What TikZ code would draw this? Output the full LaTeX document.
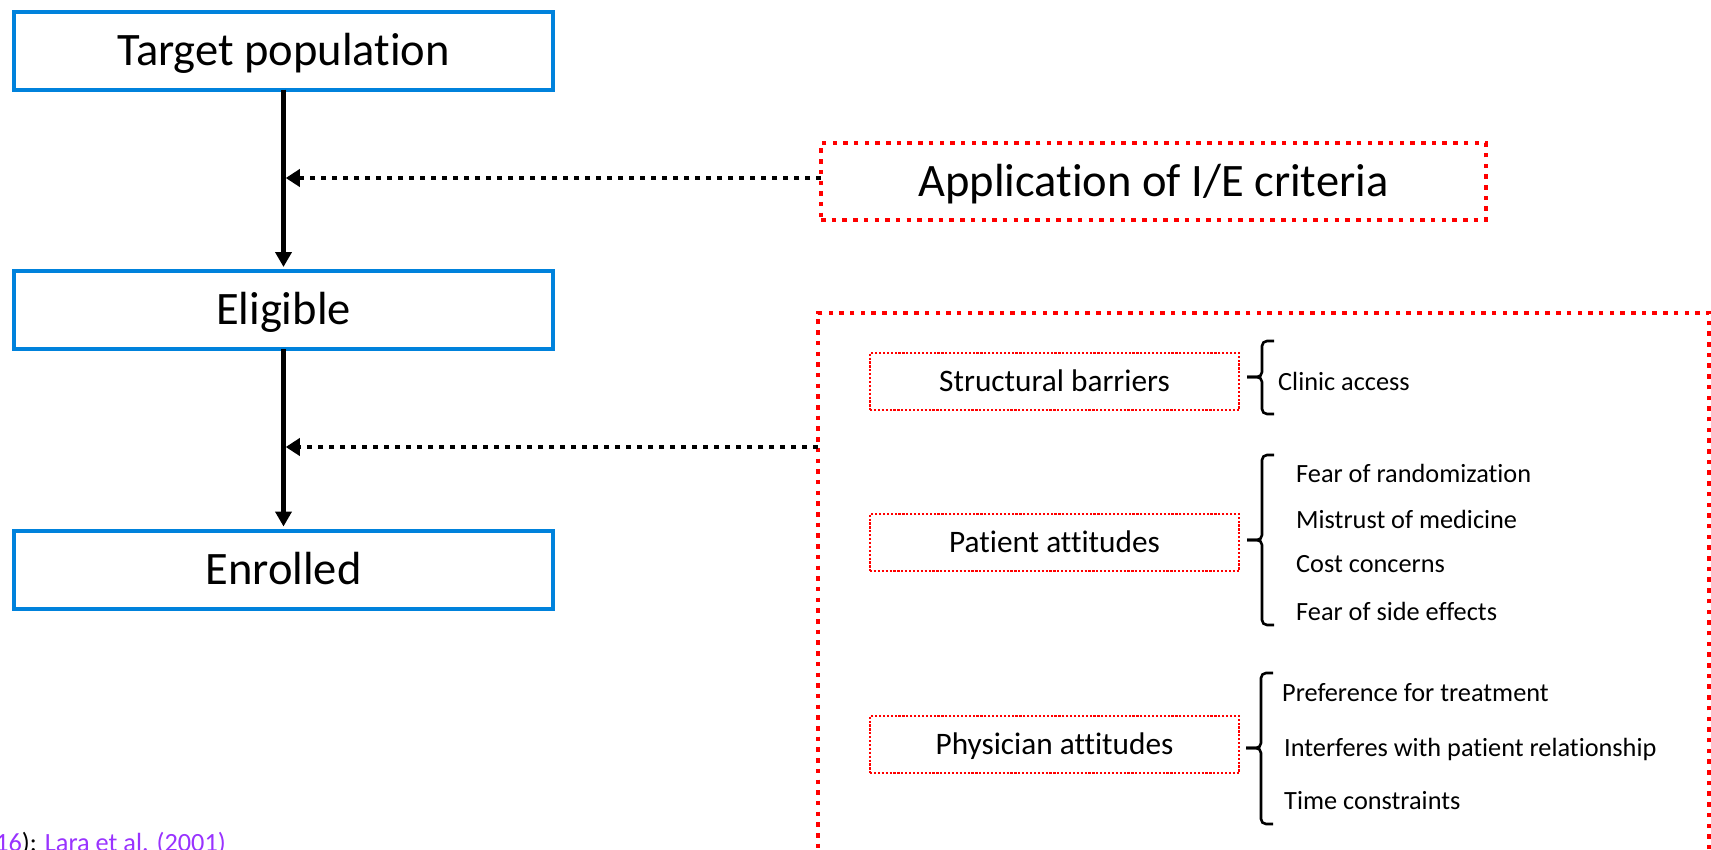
\documentclass[tikz,border=0pt]{standalone}
\usepackage{fontspec}
\setmainfont{Carlito}[Ligatures=NoCommon]
\usetikzlibrary{arrows.meta}
\definecolor{flowblue}{RGB}{0,130,220}
\definecolor{linkpurple}{RGB}{153,51,255}

% left brace: x of the spine, top, tip, bottom
\newcommand{\drawbrace}[4]{%
  \draw[bracestroke] (#1+12,#2) -- (#1,#2) -- (#1,#3) -- (#1-15,#3);
  \draw[bracestroke] (#1+12,#4) -- (#1,#4) -- (#1,#3) -- (#1-15,#3);
}

\begin{document}
\begin{tikzpicture}[x=1pt,y=-1pt,
  stage/.style={draw=flowblue, line width=4pt, minimum width=539pt,
    minimum height=78pt, inner sep=0pt, outer sep=0pt,
    font=\fontsize{46.5}{56}\selectfont, text height=29.4pt, text depth=0pt},
  bigdots/.style={draw=red, line width=4.5pt, dash pattern=on 4.5pt off 6.2pt,
    inner sep=0pt, outer sep=0pt},
  factor/.style={draw=red, line width=2.2pt, dash pattern=on 2.2pt off 1.7pt,
    minimum width=369pt, minimum height=57pt, inner sep=0pt, outer sep=0pt,
    font=\fontsize{31.3}{38}\selectfont, text height=19.8pt, text depth=0pt},
  item/.style={anchor=base west, inner sep=0pt,
    font=\fontsize{26.3}{32}\selectfont},
  flow/.style={line width=4.5pt, -{Triangle[length=15pt,width=16pt]},
    shorten >=4pt},
  dotflow/.style={line width=4.8pt, dash pattern=on 4.8pt off 6.2pt,
    -{Triangle[length=14pt,width=17pt]}, shorten >=2.25pt},
  bracestroke/.style={line width=2.6pt, rounded corners=5pt}
]
\useasboundingbox (0,0) rectangle (1711,849);

% main flow
\node[stage] (tgt) at (283.5,50.5) {Target population};
\node[stage] (elig) at (283.5,310) {Eligible};
\node[stage] (enr) at (283.5,569.5) {Enrolled};

\draw[flow] (tgt.south) -- (elig.north);
\draw[flow] (elig.south) -- (enr.north);

% screening step
\node[bigdots, minimum width=665pt, minimum height=77pt,
  font=\fontsize{46.5}{56}\selectfont, text height=29.4pt, text depth=0pt]
  (ie) at (1153.5,181.5) {Application of I/E criteria};

% barriers panel
\node[bigdots, minimum width=891pt, minimum height=587pt] (big) at (1263.5,606.5) {};

\coordinate (ieout) at ([yshift=3.5pt]ie.west);
\draw[dotflow] (ieout) -- (ieout -| tgt.south);
\coordinate (barout) at ([yshift=-134pt]big.north west);
\draw[dotflow] (barout) -- (barout -| elig.south);

\node[factor] (sb) at (1054.5,381.5) {Structural barriers};
\node[factor] (pa) at (1054.5,542.5) {Patient attitudes};
\node[factor] (ph) at (1054.5,744.5) {Physician attitudes};

\drawbrace{1262}{341}{377}{414}
\drawbrace{1262}{455}{540}{625}
\drawbrace{1261}{673}{748}{824}

\node[item] (ca) at (1278,390) {Clinic access};
\node[item] (fr) at (1296,482) {Fear of randomization};
\node[item] (mm) at (1296,528) {Mistrust of medicine};
\node[item] (cc) at (1296,572) {Cost concerns};
\node[item] (fs) at (1296,620) {Fear of side effects};
\node[item] (pt) at (1282,701) {Preference for treatment};
\node[item] (ir) at (1284,756) {Interferes with patient relationship};
\node[item] (tc) at (1284,809) {Time constraints};

% source line
\node[item] (src) at (-4.9,851.6)
  {\textcolor{linkpurple}{16}): \textcolor{linkpurple}{Lara et al. (2001)}};
\end{tikzpicture}
\end{document}
